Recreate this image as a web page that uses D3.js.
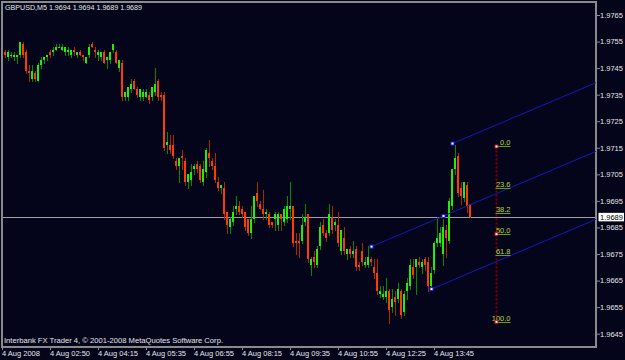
<!DOCTYPE html>
<html><head><meta charset="utf-8">
<script src="https://cdn.jsdelivr.net/npm/d3@7"></script>
<style>
html,body{margin:0;padding:0;background:#04041a;}
svg{display:block;}
</style></head>
<body><svg id="c" width="625" height="360"></svg>
<script>
// ---------- DATA ----------
const openP = [1.9748,1.9751,1.9749,1.9750,1.9749,1.9749,1.9750,1.9754,1.9751,1.9744,
1.9741,1.9743,1.9740,1.9746,1.9748,1.9749,1.9751,1.9751,1.9752,1.9753,
1.9752,1.9751,1.9751,1.9750,1.9752,1.9750,1.9751,1.9750,1.9747,1.9750,
1.9754,1.9752,1.9750,1.9749,1.9751,1.9748,1.9748,1.9752,1.9751,1.9745,
1.9747,1.9734,1.9734,1.9737,1.9740,1.9737,1.9734,1.9734,1.9734,1.9735,
1.9734,1.9736,1.9740,1.9735,1.9735,1.9716,1.9716,1.9716,1.9710,1.9708,
1.9712,1.9710,1.9702,1.9703,1.9707,1.9709,1.9708,1.9702,1.9706,1.9713,
1.9710,1.9708,1.9702,1.9700,1.9700,1.9691,1.9685,1.9687,1.9692,1.9693,
1.9692,1.9691,1.9688,1.9683,1.9688,1.9698,1.9694,1.9692,1.9690,1.9690,
1.9687,1.9688,1.9686,1.9690,1.9687,1.9688,1.9692,1.9693,1.9680,1.9680,
1.9680,1.9687,1.9690,1.9671,1.9674,1.9671,1.9678,1.9686,1.9683,1.9683,
1.9689,1.9686,1.9686,1.9676,1.9681,1.9675,1.9677,1.9675,1.9677,1.9671,
1.9676,1.9671,1.9671,1.9673,1.9670,1.9668,1.9660,1.9659,1.9659,1.9661,
1.9655,1.9659,1.9658,1.9661,1.9653,1.9661,1.9663,1.9670,1.9670,1.9672,
1.9670,1.9673,1.9672,1.9663,1.9669,1.9679,1.9679,1.9675,1.9684,1.9680,
1.9693,1.9707,1.9712,1.9700,1.9696,1.9701,1.9694];
const highP = [1.9751,1.9752,1.9752,1.9751,1.9751,1.9750,1.9755,1.9755,1.9752,1.9746,
1.9746,1.9744,1.9747,1.9749,1.9749,1.9750,1.9752,1.9753,1.9754,1.9754,
1.9754,1.9753,1.9753,1.9752,1.9753,1.9751,1.9752,1.9750,1.9749,1.9754,
1.9755,1.9753,1.9752,1.9751,1.9752,1.9749,1.9751,1.9754,1.9752,1.9748,
1.9748,1.9736,1.9738,1.9741,1.9741,1.9738,1.9737,1.9737,1.9737,1.9736,
1.9738,1.9745,1.9741,1.9736,1.9736,1.9721,1.9720,1.9720,1.9711,1.9711,
1.9714,1.9711,1.9705,1.9709,1.9709,1.9710,1.9709,1.9710,1.9715,1.9718,
1.9711,1.9713,1.9704,1.9701,1.9702,1.9691,1.9689,1.9693,1.9697,1.9695,
1.9693,1.9691,1.9688,1.9693,1.9697,1.9702,1.9695,1.9699,1.9692,1.9691,
1.9687,1.9691,1.9691,1.9690,1.9693,1.9697,1.9702,1.9693,1.9683,1.9683,
1.9690,1.9694,1.9690,1.9674,1.9676,1.9678,1.9687,1.9688,1.9684,1.9694,
1.9693,1.9688,1.9691,1.9684,1.9685,1.9677,1.9678,1.9680,1.9678,1.9672,
1.9679,1.9674,1.9678,1.9674,1.9673,1.9673,1.9663,1.9663,1.9666,1.9662,
1.9662,1.9661,1.9664,1.9662,1.9661,1.9666,1.9673,1.9673,1.9673,1.9674,
1.9673,1.9674,1.9674,1.9670,1.9680,1.9689,1.9685,1.9688,1.9686,1.9696,
1.9707,1.9716,1.9713,1.9702,1.9702,1.9702,1.9694];
const lowP = [1.9747,1.9749,1.9748,1.9749,1.9748,1.9747,1.9749,1.9749,1.9743,1.9740,
1.9740,1.9740,1.9740,1.9745,1.9747,1.9748,1.9749,1.9750,1.9752,1.9753,
1.9752,1.9750,1.9750,1.9749,1.9750,1.9749,1.9750,1.9748,1.9747,1.9749,
1.9753,1.9749,1.9748,1.9748,1.9747,1.9745,1.9747,1.9751,1.9747,1.9744,
1.9733,1.9733,1.9733,1.9736,1.9737,1.9734,1.9733,1.9733,1.9734,1.9732,
1.9733,1.9735,1.9733,1.9733,1.9714,1.9713,1.9713,1.9711,1.9707,1.9702,
1.9707,1.9701,1.9700,1.9701,1.9705,1.9706,1.9702,1.9701,1.9704,1.9708,
1.9707,1.9702,1.9699,1.9698,1.9688,1.9683,1.9683,1.9686,1.9690,1.9690,
1.9689,1.9684,1.9682,1.9681,1.9687,1.9693,1.9692,1.9688,1.9688,1.9685,
1.9685,1.9684,1.9684,1.9684,1.9686,1.9687,1.9688,1.9678,1.9675,1.9674,
1.9679,1.9686,1.9672,1.9667,1.9670,1.9670,1.9677,1.9682,1.9680,1.9682,
1.9683,1.9684,1.9678,1.9675,1.9675,1.9673,1.9674,1.9674,1.9669,1.9669,
1.9671,1.9670,1.9670,1.9671,1.9666,1.9660,1.9659,1.9658,1.9657,1.9649,
1.9653,1.9652,1.9657,1.9651,1.9652,1.9658,1.9662,1.9666,1.9660,1.9670,
1.9668,1.9669,1.9661,1.9662,1.9668,1.9678,1.9678,1.9671,1.9674,1.9679,
1.9692,1.9705,1.9697,1.9694,1.9695,1.9691,1.9689];
const closeP = [1.9751,1.9750,1.9751,1.9750,1.9750,1.9750,1.9755,1.9750,1.9744,1.9743,
1.9744,1.9741,1.9746,1.9748,1.9749,1.9750,1.9750,1.9752,1.9753,1.9753,
1.9753,1.9753,1.9752,1.9752,1.9751,1.9751,1.9750,1.9749,1.9749,1.9753,
1.9753,1.9751,1.9751,1.9751,1.9747,1.9749,1.9751,1.9754,1.9747,1.9748,
1.9734,1.9736,1.9738,1.9739,1.9737,1.9735,1.9737,1.9736,1.9736,1.9733,
1.9738,1.9739,1.9734,1.9734,1.9715,1.9717,1.9714,1.9712,1.9708,1.9711,
1.9711,1.9702,1.9705,1.9706,1.9708,1.9707,1.9703,1.9707,1.9714,1.9711,
1.9708,1.9703,1.9700,1.9701,1.9690,1.9686,1.9688,1.9691,1.9693,1.9691,
1.9690,1.9685,1.9683,1.9688,1.9697,1.9695,1.9692,1.9690,1.9691,1.9686,
1.9686,1.9690,1.9690,1.9688,1.9692,1.9693,1.9693,1.9679,1.9679,1.9679,
1.9686,1.9689,1.9673,1.9673,1.9672,1.9677,1.9685,1.9683,1.9681,1.9690,
1.9684,1.9687,1.9679,1.9684,1.9676,1.9677,1.9675,1.9676,1.9670,1.9670,
1.9672,1.9672,1.9674,1.9672,1.9668,1.9661,1.9661,1.9660,1.9661,1.9654,
1.9658,1.9657,1.9662,1.9652,1.9660,1.9664,1.9671,1.9667,1.9673,1.9671,
1.9672,1.9671,1.9663,1.9668,1.9679,1.9681,1.9683,1.9685,1.9681,1.9695,
1.9707,1.9711,1.9698,1.9697,1.9702,1.9693,1.9689];
const timeTickIdx = [0,16,32,48,64,80,96,112,128,144];
const timeLabels = ["4 Aug 2008","4 Aug 02:50","4 Aug 04:15","4 Aug 05:35","4 Aug 06:55",
  "4 Aug 08:15","4 Aug 09:35","4 Aug 10:55","4 Aug 12:25","4 Aug 13:45"];
const priceTicks = [1.9645,1.9655,1.9665,1.9675,1.9685,1.9695,1.9705,1.9715,1.9725,1.9735,1.9745,1.9755,1.9765];
const lastPrice = 1.9689;
const symbolTitle = "GBPUSD,M5";
const titleQuote = [1.9694,1.9694,1.9689,1.9689];
const copyright = "Interbank FX Trader 4, \u00A9 2001-2008 MetaQuotes Software Corp.";
const fibLevels = [0, 23.6, 38.2, 50, 61.8, 100];
const fibHigh = 1.97155, fibLow = 1.96495, fibBar = 164.5;
const channelBase = [[123, 1.96778], [147, 1.96893]];
const channelStarts = [[123, 1.96778], [150, 1.97166], [143, 1.96618]];

// ---------- STYLE ----------
const BG = "#04041a", FRAME = "#8a8a8a", TXT = "#e6e6e6";
const UP_BODY = "#22ee00", UP_WICK = "#008c00", DN_BODY = "#ff3c00", DN_WICK = "#a82a00";
const FONT = "'Liberation Sans', Arial, sans-serif", FS = 7.5;
const L = 2, R = 596, T = 2, B = 347;

const svg = d3.select("#c");
svg.append("rect").attr("width", 625).attr("height", 360).attr("fill", BG);

const x = d3.scaleLinear().domain([0, 144]).range([2.5, 434.5]);
const y = d3.scaleLinear().domain([1.9645, 1.9765]).range([333.7, 15]);

// current price line
svg.append("line").attr("x1", L).attr("x2", R).attr("y1", Math.round(y(lastPrice)) + 0.5)
  .attr("y2", Math.round(y(lastPrice)) + 0.5).attr("stroke", "#a0a0a0").attr("stroke-width", 1);

// candles
const bars = d3.range(openP.length).map(i => ({i, o: openP[i], h: highP[i], l: lowP[i], c: closeP[i]}));
const cg = svg.append("g").attr("shape-rendering", "crispEdges");
cg.selectAll("rect.w").data(bars).join("rect").attr("class", "w")
  .attr("x", d => Math.floor(x(d.i))).attr("width", 1)
  .attr("y", d => Math.round(y(d.h))).attr("height", d => Math.max(1, Math.round(y(d.l)) - Math.round(y(d.h)) + 1))
  .attr("fill", d => d.c >= d.o ? UP_WICK : DN_WICK);
cg.selectAll("rect.b").data(bars).join("rect").attr("class", "b")
  .attr("x", d => Math.floor(x(d.i)) - 1).attr("width", 2)
  .attr("y", d => Math.round(y(Math.max(d.o, d.c))))
  .attr("height", d => Math.max(1, Math.round(y(Math.min(d.o, d.c))) - Math.round(y(Math.max(d.o, d.c)))))
  .attr("fill", d => d.c >= d.o ? UP_BODY : DN_BODY);

// frame
const fg = svg.append("g").attr("stroke", FRAME).attr("stroke-width", 2).attr("shape-rendering", "crispEdges");
fg.append("line").attr("x1", L - 1).attr("x2", R + 1).attr("y1", T).attr("y2", T);
fg.append("line").attr("x1", L).attr("x2", L).attr("y1", T).attr("y2", B);
fg.append("line").attr("x1", R).attr("x2", R).attr("y1", T).attr("y2", B + 1);
fg.append("line").attr("x1", L - 1).attr("x2", R + 1).attr("y1", B).attr("y2", B);

// channel
const slope = (channelBase[1][1] - channelBase[0][1]) / (channelBase[1][0] - channelBase[0][0]);
const iEnd = x.invert(R);
const chg = svg.append("g");
channelStarts.forEach(([i0, p0]) => {
  chg.append("line").attr("x1", x(i0)).attr("y1", y(p0))
    .attr("x2", x(iEnd)).attr("y2", y(p0 + slope * (iEnd - i0)))
    .attr("stroke", "#1616c0").attr("stroke-width", 1);
});
const anchors = [channelStarts[0], channelBase[1], channelStarts[1], channelStarts[2]];
chg.selectAll("rect").data(anchors).join("rect")
  .attr("x", d => x(d[0]) - 1.5).attr("y", d => y(d[1]) - 1.5).attr("width", 3).attr("height", 3)
  .attr("fill", "#ffffff").attr("stroke", "#2020e0").attr("stroke-width", 1);

// fibonacci
const fx = Math.round(x(fibBar)) + 0.5;
const fibG = svg.append("g");
fibG.append("line").attr("x1", fx).attr("x2", fx).attr("y1", y(fibHigh)).attr("y2", y(fibLow))
  .attr("stroke", "#7a0000").attr("stroke-width", 2).attr("stroke-dasharray", "2,2");
const lvlY = l => y(fibHigh - l / 100 * (fibHigh - fibLow));
fibG.selectAll("line.lv").data(fibLevels).join("line").attr("class", "lv")
  .attr("x1", fx - 1).attr("x2", fx + 14).attr("y1", d => Math.round(lvlY(d)) + 0.5).attr("y2", d => Math.round(lvlY(d)) + 0.5)
  .attr("stroke", "#5aa812").attr("stroke-width", 1);
fibG.selectAll("text").data(fibLevels).join("text")
  .attr("x", fx + 14).attr("y", d => Math.round(lvlY(d)) - 1.5)
  .attr("text-anchor", "end").attr("font-family", FONT).attr("font-size", FS)
  .attr("fill", "#bede2c").text(d => d3.format(".1f")(d));
fibG.selectAll("rect").data([0, 50, 100]).join("rect")
  .attr("x", fx - 1.5).attr("y", d => lvlY(d) - 1.5).attr("width", 3).attr("height", 3)
  .attr("fill", "#ffffff").attr("stroke", "#b01010").attr("stroke-width", 1);

// price axis
const ya = svg.append("g").attr("transform", `translate(${R + 1},0)`)
  .call(d3.axisRight(y).tickValues(priceTicks).tickSize(3).tickPadding(0).tickFormat(d3.format(".4f")));
ya.select(".domain").remove();
ya.selectAll("line").attr("stroke", FRAME);
ya.selectAll("text").attr("fill", TXT).attr("font-family", FONT).attr("font-size", FS);

// time axis
const xa = svg.append("g").attr("transform", `translate(0,${B})`)
  .call(d3.axisBottom(x).tickValues(timeTickIdx).tickSize(3).tickPadding(1).offset(0)
    .tickFormat((d, i) => timeLabels[i]));
xa.select(".domain").remove();
xa.selectAll("line").attr("stroke", FRAME).attr("shape-rendering", "crispEdges");
xa.selectAll("text").attr("fill", TXT).attr("font-family", FONT).attr("font-size", FS)
  .attr("text-anchor", "start").attr("x", -0.5);

// current price box
const py = y(lastPrice);
svg.append("rect").attr("x", 598.5).attr("y", py - 4).attr("width", 25.5).attr("height", 8.5).attr("fill", "#ffffff");
svg.append("text").attr("x", 600).attr("y", py + 2.8).attr("font-family", FONT).attr("font-size", FS)
  .attr("fill", "#000").text(d3.format(".4f")(lastPrice));

// title & copyright
svg.append("text").attr("x", 5).attr("y", 10).attr("font-family", FONT).attr("font-size", FS)
  .attr("fill", TXT).attr("textLength", 137).attr("lengthAdjust", "spacingAndGlyphs")
  .text(symbolTitle + "  " + titleQuote.map(d3.format(".4f")).join(" "));
svg.append("text").attr("x", 4).attr("y", 343).attr("font-family", FONT).attr("font-size", FS)
  .attr("fill", TXT).attr("textLength", 219).attr("lengthAdjust", "spacingAndGlyphs")
  .text(copyright);
</script>
</body></html>
